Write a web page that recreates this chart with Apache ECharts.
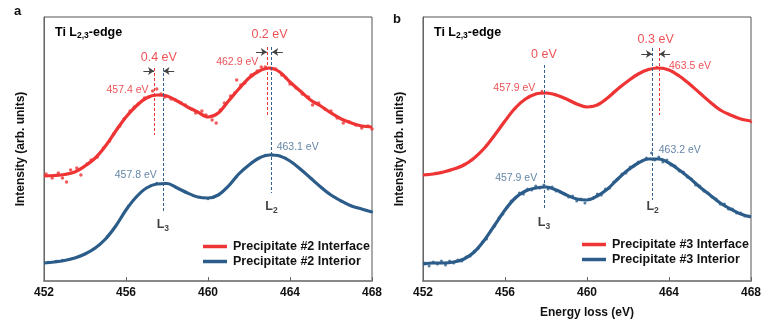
<!DOCTYPE html>
<html>
<head>
<meta charset="utf-8">
<script src="https://cdn.jsdelivr.net/npm/echarts@6/dist/echarts.min.js"></script>
<style>
  html, body { margin: 0; padding: 0; background: #fff; }
  #chart { width: 772px; height: 336px; }
</style>
</head>
<body>
<div id="chart"></div>
<script>
// Ti L2,3-edge EELS spectra: fitted curves (0.5 eV grid) and measured points
const energyTicks = [452, 456, 460, 464, 468];
const fitEnergy = [452, 452.5, 453, 453.5, 454, 454.5, 455, 455.5, 456, 456.5, 457, 457.5,
  458, 458.5, 459, 459.5, 460, 460.5, 461, 461.5, 462, 462.5, 463, 463.5, 464, 464.5,
  465, 465.5, 466, 466.5, 467, 467.5, 468];

// panel a: precipitate #2
const interfaceA = [105, 105.5, 106.5, 109, 115, 123, 135, 150, 164, 175, 183, 186, 185, 180, 174, 169,
  164, 168, 180, 192, 203, 210, 213, 209, 199, 190, 181, 175, 168, 162, 158, 155, 154];
const interiorA = [18, 19, 20.5, 23, 27, 33, 42, 55, 71, 84, 93, 97, 97.5, 93, 88, 84,
  83, 86, 95, 107, 116, 123, 126, 125, 120, 112, 103, 94, 86, 80, 75, 72, 69];

// panel b: precipitate #3
const interfaceB = [106, 107, 109, 112, 116, 123, 133, 146, 160, 173, 182, 187, 188, 186, 182, 177,
  174, 176, 183, 192, 200, 207, 211.5, 213, 211, 205, 197, 188, 179, 171, 166, 162, 160];
const interiorB = [17, 18, 18, 19, 22, 29, 41, 56, 71, 83, 90, 93, 94, 91, 86, 82,
  81, 85, 92, 102, 111, 118, 122, 122, 118, 111, 103, 94, 86, 78, 72, 67, 64];

// measured points [energy, intensity]
const interfaceAPoints = [[452.1,107],[452.4,103],[452.7,108],[452.9,103],[453.1,99],[453.3,111],[453.6,113],
  [453.8,106],[454.1,117],[454.3,121],[454.6,124],[454.9,133],[455.2,140],[455.4,147],[455.7,155],[455.9,162],
  [456.2,170],[456.4,174],[456.6,177],[456.9,183],[457.1,184],[457.3,190],[457.5,192],[457.7,187],[457.9,184],
  [458.2,182],[458.4,181],[458.7,178],[458.9,176],[459.2,172],[459.4,168],[459.7,170],[459.9,166],[460.2,161],
  [460.4,158],[460.6,171],[460.8,178],[461.1,185],[461.3,188],[461.4,201],[461.6,196],[461.8,198],[462.1,206],
  [462.4,210],[462.6,214],[462.8,214],[463.1,212],[463.3,212],[463.6,206],[463.8,203],[464.0,197],[464.3,193],
  [464.6,187],[464.9,184],[465.1,176],[465.4,178],[465.7,172],[466.0,170],[466.3,163],[466.6,158],[466.9,159],
  [467.2,156],[467.5,153],[467.8,155],[468.0,152]];
const interiorAPoints = [[452.2,19],[452.6,20],[452.9,21],[453.3,22],[453.7,25],[454.0,27],[454.4,32],[454.7,36],
  [455.1,45],[455.4,52],[455.8,64],[456.1,75],[456.5,84],[456.8,90],[457.2,95],[457.5,98],[457.9,98],[458.2,96],
  [458.6,92],[458.9,89],[459.3,85],[459.6,84],[460.0,82],[460.3,84],[460.7,89],[461.0,95],[461.4,104],[461.7,111],
  [462.1,118],[462.4,122],[462.8,126],[463.1,127],[463.5,125],[463.8,123],[464.2,117],[464.5,112],[464.9,105],
  [465.2,99],[465.6,93],[465.9,88],[466.3,82],[466.6,79],[467.0,75],[467.3,73],[467.7,71],[468.0,69]];
const interfaceBPoints = [[452.2,106],[452.6,108],[452.9,108],[453.3,111],[453.7,113],[454.0,117],[454.4,121],
  [454.7,127],[455.1,135],[455.4,143],[455.8,155],[456.1,163],[456.5,172],[456.8,179],[457.2,184],[457.5,187],
  [457.8,190],[458.1,188],[458.5,186],[458.8,184],[459.2,180],[459.5,177],[459.9,174],[460.2,175],[460.6,177],
  [460.9,181],[461.3,189],[461.6,194],[462.0,200],[462.3,205],[462.7,209],[463.0,212],[463.4,214],[463.7,213],
  [464.1,210],[464.4,206],[464.8,200],[465.1,195],[465.5,188],[465.8,183],[466.2,176],[466.5,171],[466.9,167],
  [467.2,164],[467.6,161],[468.0,159]];
const interiorBPoints = [[452.1,18],[452.3,15],[452.5,19],[452.7,17],[452.9,20],[453.1,16],[453.3,20],[453.5,18],
  [453.7,21],[453.9,20],[454.1,24],[454.3,25],[454.5,30],[454.7,33],[454.9,39],[455.1,42],[455.3,50],[455.5,55],
  [455.7,63],[455.9,67],[456.1,74],[456.3,80],[456.5,83],[456.7,88],[456.9,87],[457.1,92],[457.3,91],[457.5,95],
  [457.7,93],[457.9,96],[458.1,92],[458.3,94],[458.5,90],[458.7,89],[458.9,87],[459.1,84],[459.3,85],[459.5,80],
  [459.7,82],[459.9,78],[460.1,82],[460.3,83],[460.5,87],[460.7,86],[460.9,92],[461.1,93],[461.3,99],[461.5,102],
  [461.7,107],[461.9,108],[462.1,114],[462.3,115],[462.5,119],[462.7,120],[462.9,123],[463.15,128],[463.3,121],
  [463.5,124],[463.7,119],[463.9,121],[464.1,116],[464.3,115],[464.5,110],[464.7,109],[464.9,104],[465.1,102],
  [465.3,96],[465.5,95],[465.7,90],[465.9,88],[466.1,84],[466.3,82],[466.5,77],[466.7,77],[466.9,72],[467.1,72],
  [467.3,68],[467.5,68],[467.7,65],[467.9,65]];

// peak positions (eV): [L3, L2]
const peaksInterfaceA = [457.4, 462.9];
const peaksInteriorA = [457.8, 463.1];
const peaksInterfaceB = [457.9, 463.5];
const peaksInteriorB = [457.9, 463.2];

const seriesNames = ['Precipitate #2 Interface', 'Precipitate #2 Interior',
                     'Precipitate #3 Interface', 'Precipitate #3 Interior'];

const RED = '#ee3434';
const BLUE = '#2c5d8a';
const RED_TEXT = '#e8262c';
const BLUE_TEXT = '#3d6690';
const FONT = 'Liberation Sans, Arial, sans-serif';

const pair = (xs, ys) => xs.map((x, i) => [x, ys[i]]);
const fmtE = v => v.toFixed(1) + ' eV';
const fmtShift = d => (Math.abs(d) < 1e-9 ? '0' : Math.abs(d).toFixed(1)) + ' eV';

const chart = echarts.init(document.getElementById('chart'), null, { renderer: 'canvas' });

function lineSeries(name, ys, color, idx) {
  return {
    name, type: 'line', xAxisIndex: idx, yAxisIndex: idx,
    data: pair(fitEnergy, ys), smooth: 0.35, showSymbol: false, symbol: 'none',
    lineStyle: { color, width: 3.2 }, itemStyle: { color }, z: 3, silent: true
  };
}
function pointSeries(name, pts, color, idx, size) {
  return {
    name, type: 'scatter', xAxisIndex: idx, yAxisIndex: idx, data: pts,
    symbolSize: size, itemStyle: { color }, z: 4, silent: true
  };
}

const subRich = {
  l: { fontFamily: FONT, fontSize: 12.5, fontWeight: 'bold', color: '#111', lineHeight: 16, verticalAlign: 'middle' },
  s: { fontFamily: FONT, fontSize: 8.5, fontWeight: 'bold', color: '#111', lineHeight: 16, verticalAlign: 'bottom' }
};

// text labels + dashed guides + arrows for one panel
function annotations(idx, pIf, pIn, layout) {
  const texts = [];
  const txt = (x, y, text, color, align, size) => texts.push({
    value: [x, y],
    label: { show: true, position: 'inside', formatter: text, color, align, verticalAlign: 'middle',
             fontFamily: FONT, fontSize: size }
  });
  layout.ifLabels.forEach((o, k) => txt(pIf[k] + o[0], o[1], fmtE(pIf[k]), RED_TEXT, o[2], 10.5));
  layout.inLabels.forEach((o, k) => txt(pIn[k] + o[0], o[1], fmtE(pIn[k]), BLUE_TEXT, o[2], 10.5));
  layout.shiftLabels.forEach((y, k) => txt((pIf[k] + pIn[k]) / 2, y, fmtShift(pIn[k] - pIf[k]), RED_TEXT, 'center', 12.5));
  ['3', '2'].forEach((n, k) => texts.push({
    value: [pIn[k], layout.lLabels[k]],
    label: { show: true, position: 'inside', formatter: '{l|L}{s|' + n + '}', rich: subRich, align: 'center', verticalAlign: 'middle' }
  }));

  const guides = [];
  const vline = (x, y1, y2, color) => guides.push([
    { coord: [x, y1], lineStyle: { color, type: [3, 2], width: 1 }, symbol: 'none' },
    { coord: [x, y2], symbol: 'none' }
  ]);
  [0, 1].forEach(k => {
    vline(pIf[k], layout.top[k], layout.ifBottom[k], RED);
    vline(pIn[k], layout.top[k], layout.inBottom[k], '#335f8c');
  });
  // arrows pointing at the two guides of each shifted peak
  layout.arrows.forEach(([k, y]) => {
    const lo = Math.min(pIf[k], pIn[k]), hi = Math.max(pIf[k], pIn[k]);
    guides.push([{ coord: [lo - 0.55, y] }, { coord: [lo - 0.03, y] }]);
    guides.push([{ coord: [hi + 0.55, y] }, { coord: [hi + 0.03, y] }]);
  });

  return {
    type: 'scatter', xAxisIndex: idx, yAxisIndex: idx, symbolSize: 0, silent: true, z: 6,
    data: texts,
    markLine: {
      silent: true, animation: false, symbol: ['none', 'arrow'], symbolSize: [6, 6],
      label: { show: false },
      lineStyle: { color: '#444', width: 1, type: 'solid' },
      data: guides
    }
  };
}

const layoutA = {
  ifLabels: [[-0.3, 191, 'right'], [-0.45, 219, 'right']],
  inLabels: [[-0.3, 106, 'right'], [0.25, 134, 'left']],
  shiftLabels: [223, 246],
  lLabels: [56, 74],
  top: [213, 234], ifBottom: [146, 166], inBottom: [68, 88],
  arrows: [[0, 210], [1, 229]]
};
const layoutB = {
  ifLabels: [[-0.42, 193, 'right'], [0.5, 215, 'left']],
  inLabels: [[-0.33, 103, 'right'], [0.3, 131, 'left']],
  shiftLabels: [226, 241],
  lLabels: [58, 74],
  top: [216, 233], ifBottom: [151, 166], inBottom: [73, 81],
  arrows: [[1, 227]]
};

function xAxis(idx, withName) {
  return {
    type: 'value', gridIndex: idx, min: 452, max: 468, interval: 4,
    axisLine: { show: true, lineStyle: { color: '#888', width: 2 } },
    axisTick: { show: true, inside: true, length: 4, lineStyle: { color: '#666', width: 1 } },
    axisLabel: { color: '#111', fontFamily: FONT, fontSize: 12, fontWeight: 'bold', margin: 6,
                 customValues: energyTicks },
    splitLine: { show: false },
    name: withName ? 'Energy loss (eV)' : '',
    nameLocation: 'middle', nameGap: 26,
    nameTextStyle: { color: '#111', fontFamily: FONT, fontSize: 12, fontWeight: 'bold' }
  };
}
function yAxis(idx) {
  return {
    type: 'value', gridIndex: idx, min: 0, max: 264,
    axisLine: { show: true, lineStyle: { color: '#666', width: 1 } },
    axisTick: { show: false }, axisLabel: { show: false }, splitLine: { show: false },
    name: 'Intensity (arb. units)', nameLocation: 'middle', nameGap: 17,
    nameTextStyle: { color: '#111', fontFamily: FONT, fontSize: 12, fontWeight: 'bold' }
  };
}

const legendCommon = {
  orient: 'vertical', icon: 'rect', itemWidth: 24, itemHeight: 3.5, itemGap: 0, padding: 0,
  selectedMode: false,
  textStyle: { color: '#111', fontFamily: FONT, fontSize: 12.5, fontWeight: 'bold', lineHeight: 15, padding: [0, 0, 0, 1] }
};

const titleRich = {
  b: { fontFamily: FONT, fontSize: 12.5, fontWeight: 'bold', color: '#111', lineHeight: 16, verticalAlign: 'middle' },
  s: { fontFamily: FONT, fontSize: 8.5, fontWeight: 'bold', color: '#111', lineHeight: 16, verticalAlign: 'bottom' }
};

chart.setOption({
  animation: false,
  backgroundColor: '#fff',
  grid: [
    { left: 44, top: 17, width: 328, height: 264, show: true, borderColor: '#555', borderWidth: 1 },
    { left: 423, top: 17, width: 328, height: 264, show: true, borderColor: '#555', borderWidth: 1 }
  ],
  xAxis: [xAxis(0, false), xAxis(1, true)],
  yAxis: [yAxis(0), yAxis(1)],
  legend: [
    Object.assign({ data: seriesNames.slice(0, 2), left: 203, top: 239 }, legendCommon),
    Object.assign({ data: seriesNames.slice(2, 4), left: 582, top: 237 }, legendCommon)
  ],
  graphic: [
    { type: 'text', left: 14, top: 5, style: { text: 'a', fontFamily: FONT, fontSize: 13, fontWeight: 'bold', fill: '#111' } },
    { type: 'text', left: 393, top: 13, style: { text: 'b', fontFamily: FONT, fontSize: 13, fontWeight: 'bold', fill: '#111' } },
    { type: 'text', left: 55, top: 26, style: { text: '{b|Ti L}{s|2,3}{b|-edge}', rich: titleRich } },
    { type: 'text', left: 434, top: 26, style: { text: '{b|Ti L}{s|2,3}{b|-edge}', rich: titleRich } }
  ],
  series: [
    lineSeries(seriesNames[0], interfaceA, RED, 0),
    lineSeries(seriesNames[1], interiorA, BLUE, 0),
    pointSeries('points #2 interface', interfaceAPoints, RED, 0, 3.5),
    pointSeries('points #2 interior', interiorAPoints, BLUE, 0, 2.5),
    annotations(0, peaksInterfaceA, peaksInteriorA, layoutA),
    lineSeries(seriesNames[2], interfaceB, RED, 1),
    lineSeries(seriesNames[3], interiorB, BLUE, 1),
    pointSeries('points #3 interface', interfaceBPoints, RED, 1, 2.5),
    pointSeries('points #3 interior', interiorBPoints, BLUE, 1, 3),
    annotations(1, peaksInterfaceB, peaksInteriorB, layoutB)
  ]
});
</script>
</body>
</html>
